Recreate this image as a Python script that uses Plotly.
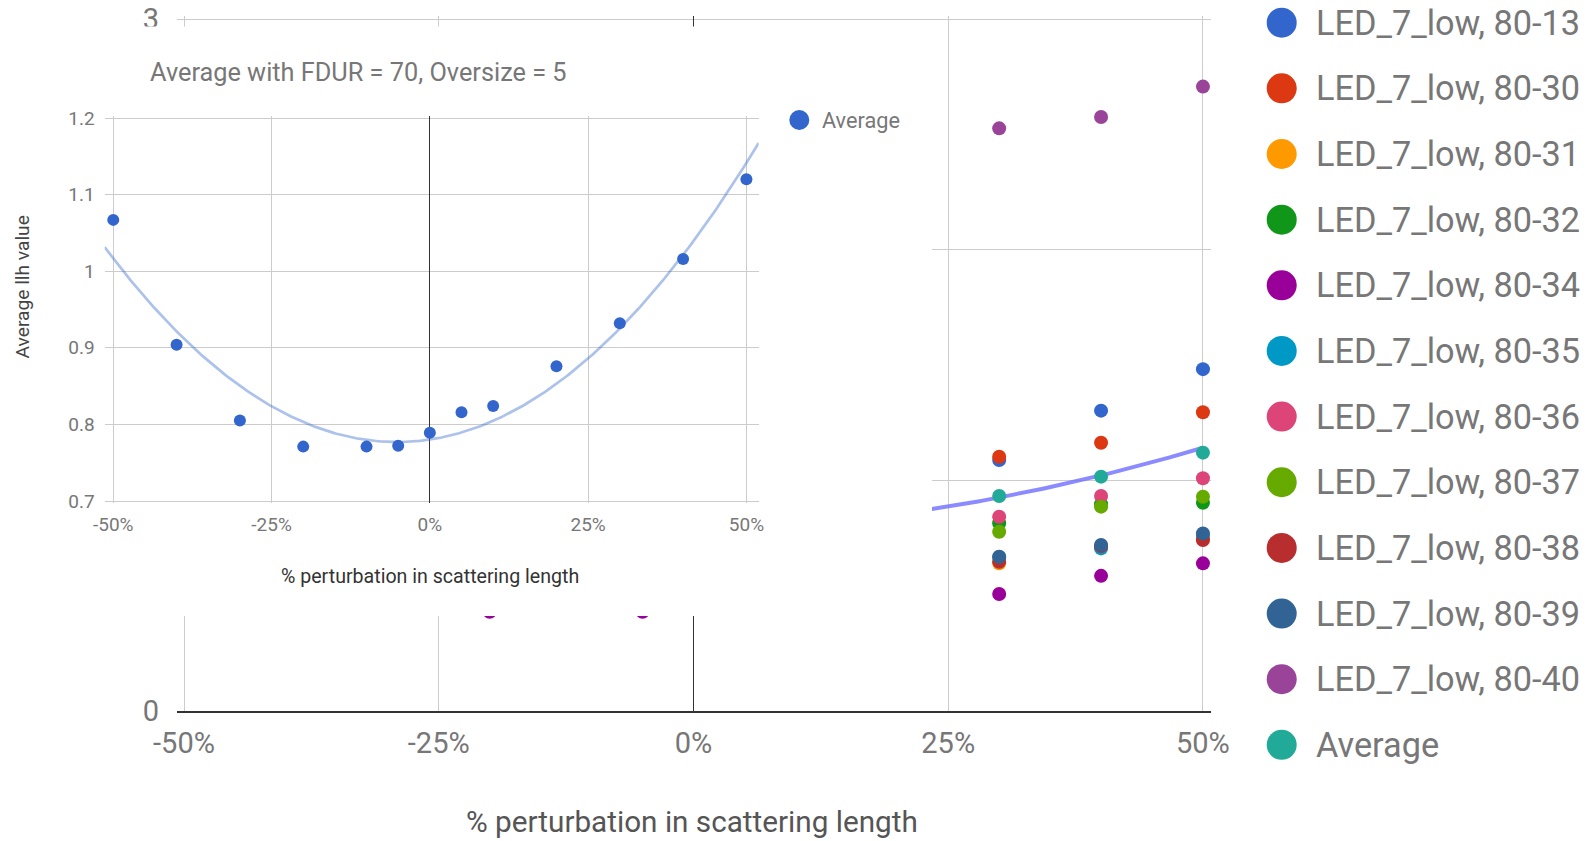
import numpy as np
import plotly.graph_objects as go

W, H = 1596, 841

# ---------------- data ----------------
pert = [-0.5, -0.4, -0.3, -0.2, -0.1, -0.05, 0.0, 0.05, 0.1, 0.2, 0.3, 0.4, 0.5]
avg_llh = [1.067, 0.904, 0.805, 0.771, 0.771, 0.772, 0.789, 0.816, 0.824, 0.876, 0.932, 1.016, 1.120]

main_x = [-0.2, -0.05, 0.3, 0.4, 0.5]
led_80_13 = [None, None, 1.088, 1.302, 1.482]
led_80_30 = [None, None, 1.102, 1.163, 1.295]
led_80_31 = [None, None, 0.640, 0.710, 0.745]
led_80_32 = [None, None, 0.814, 0.897, 0.903]
led_80_34 = [0.430, 0.430, 0.507, 0.586, 0.640]
led_80_35 = [None, None, 0.668, 0.705, 0.760]
led_80_36 = [None, None, 0.842, 0.932, 1.009]
led_80_37 = [None, None, 0.777, 0.886, 0.929]
led_80_38 = [None, None, 0.647, 0.715, 0.741]
led_80_39 = [None, None, 0.669, 0.720, 0.770]
led_80_40 = [None, None, 2.526, 2.575, 2.707]

series_names = ["LED_7_low, 80-13", "LED_7_low, 80-30", "LED_7_low, 80-31",
                "LED_7_low, 80-32", "LED_7_low, 80-34", "LED_7_low, 80-35",
                "LED_7_low, 80-36", "LED_7_low, 80-37", "LED_7_low, 80-38",
                "LED_7_low, 80-39", "LED_7_low, 80-40"]
series_vals = [led_80_13, led_80_30, led_80_31, led_80_32, led_80_34, led_80_35,
               led_80_36, led_80_37, led_80_38, led_80_39, led_80_40]
series_colors = ["#3366cc", "#dc3912", "#ff9900", "#109618", "#990099", "#0099c6",
                 "#dd4477", "#66aa00", "#b82e2e", "#316395", "#994499"]
avg_color = "#22aa99"
legend_names = series_names + ["Average"]
legend_colors = series_colors + [avg_color]

x_ticks = [-0.5, -0.25, 0.0, 0.25, 0.5]
x_ticktext = ["-50%", "-25%", "0%", "25%", "50%"]
main_yticks = [0, 1, 2, 3]
main_yticktext = ["0", "1", "2", "3"]
inset_yticks = [0.7, 0.8, 0.9, 1.0, 1.1, 1.2]
inset_yticktext = ["0.7", "0.8", "0.9", "1", "1.1", "1.2"]

# polynomial (degree 2) trendline of the average
coef = np.polyfit(pert, avg_llh, 2)

FONT = "Roboto"
GRID = "#cccccc"
TICKC = "#777777"

fig = go.Figure()

# ---------------- main chart (xy) ----------------
tx_main = np.linspace(-0.5, 0.5, 300)
fig.add_trace(go.Scatter(x=tx_main, y=np.polyval(coef, tx_main), mode="lines",
                         line=dict(color="rgba(110,110,255,0.8)", width=4),
                         hoverinfo="skip", showlegend=False, xaxis="x", yaxis="y"))
for name, vals, col in zip(series_names, series_vals, series_colors):
    fig.add_trace(go.Scatter(x=main_x, y=vals, mode="markers", name=name,
                             marker=dict(color=col, size=14), showlegend=False,
                             xaxis="x", yaxis="y"))
fig.add_trace(go.Scatter(x=pert, y=avg_llh, mode="markers", name="Average",
                         marker=dict(color=avg_color, size=14), showlegend=False,
                         xaxis="x", yaxis="y"))

# ---------------- overlay in pixel space (x2y2): inset cover + legends ----------------
cov_x0, cov_x1, cov_y0, cov_y1 = 0, 932, 26.5, 616
fig.add_trace(go.Scatter(x=[cov_x0, cov_x1, cov_x1, cov_x0, cov_x0],
                         y=[cov_y0, cov_y0, cov_y1, cov_y1, cov_y0],
                         mode="lines", fill="toself", fillcolor="white",
                         line=dict(width=0, color="white"), hoverinfo="skip",
                         showlegend=False, xaxis="x2", yaxis="y2"))
leg_y = [22.7 + 65.65 * i for i in range(len(legend_names))]
fig.add_trace(go.Scatter(x=[1281.7] * len(legend_names), y=leg_y, mode="markers",
                         marker=dict(color=legend_colors, size=30), hoverinfo="skip",
                         showlegend=False, xaxis="x2", yaxis="y2"))
fig.add_trace(go.Scatter(x=[799.3], y=[120], mode="markers",
                         marker=dict(color="#3366cc", size=20), hoverinfo="skip",
                         showlegend=False, xaxis="x2", yaxis="y2"))

# ---------------- inset chart (x3y3) ----------------
in_rng = [-0.5137, 0.5194]
tx_in = np.linspace(in_rng[0], in_rng[1], 300)
fig.add_trace(go.Scatter(x=tx_in, y=np.polyval(coef, tx_in), mode="lines",
                         line=dict(color="rgba(51,102,204,0.4)", width=2.7),
                         hoverinfo="skip", showlegend=False, xaxis="x3", yaxis="y3"))
fig.add_trace(go.Scatter(x=pert, y=avg_llh, mode="markers", name="Average",
                         marker=dict(color="#3366cc", size=12), showlegend=False,
                         xaxis="x3", yaxis="y3"))

annotations = []
for name, yy in zip(legend_names, leg_y):
    annotations.append(dict(x=1313.5 / W, y=1 - yy / H, xref="paper", yref="paper",
                            text=name, showarrow=False, xanchor="left", yanchor="middle",
                            font=dict(family=FONT, size=34.3, color=TICKC)))
annotations += [
    dict(x=819.5 / W, y=1 - 120 / H, xref="paper", yref="paper", text="Average",
         showarrow=False, xanchor="left", yanchor="middle",
         font=dict(family=FONT, size=21.7, color=TICKC)),
    dict(x=147.5 / W, y=1 - 73 / H, xref="paper", yref="paper",
         text="Average with FDUR = 70, Oversize = 5", showarrow=False,
         xanchor="left", yanchor="middle", font=dict(family=FONT, size=25.3, color=TICKC)),
    dict(x=430 / W, y=1 - 576 / H, xref="paper", yref="paper",
         text="% perturbation in scattering length", showarrow=False,
         xanchor="center", yanchor="middle", font=dict(family=FONT, size=19.6, color="#333333")),
    dict(x=22 / W, y=1 - 287.5 / H, xref="paper", yref="paper",
         text="Average llh value", showarrow=False, textangle=-90,
         xanchor="center", yanchor="middle", font=dict(family=FONT, size=19.2, color="#444444")),
    dict(x=692.2 / W, y=1 - 821 / H, xref="paper", yref="paper",
         text="% perturbation in scattering length", showarrow=False,
         xanchor="center", yanchor="middle", font=dict(family=FONT, size=29.7, color="#555555")),
]

fig.update_layout(
    width=W, height=H, margin=dict(l=0, r=0, t=0, b=0, pad=0, autoexpand=False),
    paper_bgcolor="white", plot_bgcolor="rgba(0,0,0,0)", showlegend=False,
    font=dict(family=FONT),
    xaxis=dict(domain=[177 / W, 1211 / W], range=[-0.5069, 0.5079], tickvals=x_ticks,
               ticktext=x_ticktext, showgrid=True, gridcolor=GRID, gridwidth=1,
               zeroline=True, zerolinecolor="#333333", zerolinewidth=1,
               showline=True, linecolor="#333333", linewidth=2, ticks="",
               tickfont=dict(family=FONT, size=29, color=TICKC), anchor="y",
               ticklabelstandoff=5, automargin=False),
    yaxis=dict(domain=[1 - 711 / H, 1 - 16 / H], range=[0, 3.013], tickvals=main_yticks,
               ticktext=main_yticktext, showgrid=True, gridcolor=GRID, gridwidth=1,
               zeroline=False, ticks="", tickfont=dict(family=FONT, size=29, color=TICKC),
               anchor="x", ticklabelstandoff=17, automargin=False),
    xaxis2=dict(domain=[0, 1], range=[0, W], visible=False, anchor="y2", automargin=False),
    yaxis2=dict(domain=[0, 1], range=[H, 0], visible=False, anchor="x2", automargin=False),
    xaxis3=dict(domain=[104.6 / W, 758.7 / W], range=in_rng, tickvals=x_ticks,
                ticktext=x_ticktext, showgrid=True, gridcolor=GRID, gridwidth=1,
                zeroline=True, zerolinecolor="#333333", zerolinewidth=1, ticks="",
                tickfont=dict(family=FONT, size=19, color=TICKC), anchor="y3",
                ticklabelstandoff=8, automargin=False),
    yaxis3=dict(domain=[1 - 503.3 / H, 1 - 115.7 / H], range=[0.697, 1.203], tickvals=inset_yticks,
                ticktext=inset_yticktext, showgrid=True, gridcolor=GRID, gridwidth=1,
                zeroline=False, ticks="", tickfont=dict(family=FONT, size=19, color=TICKC),
                anchor="x3", ticklabelstandoff=9, automargin=False),
    annotations=annotations,
)

fig.write_html("out.html")
